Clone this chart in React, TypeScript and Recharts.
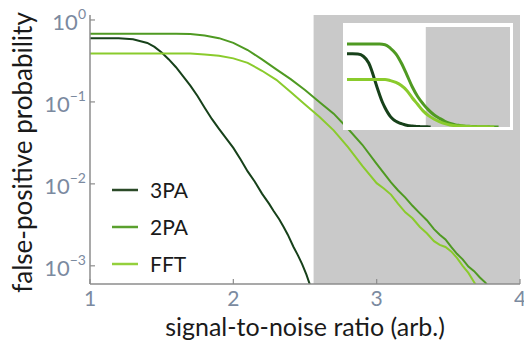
import React from "react";
import { LineChart, Line, XAxis, YAxis, ReferenceArea, Legend, Label } from "recharts";

const FONT = 'Lato, "Open Sans", sans-serif';
const FRAME = "#8c8c8c";
const TICK_TEXT = "#7b8aa0";
const SHADE = "#c9c9c9";

// x: signal-to-noise ratio, p: false-positive probability
const snr3PA = [1.0, 1.1, 1.2, 1.3, 1.4, 1.45, 1.5, 1.55, 1.6, 1.65, 1.7, 1.75, 1.8, 1.85, 1.9, 1.95, 2.0, 2.05, 2.1, 2.15, 2.2, 2.25, 2.28, 2.32, 2.35, 2.38, 2.42, 2.45, 2.48, 2.51, 2.54];
const fp3PA = [0.6, 0.6, 0.598, 0.58, 0.525, 0.47, 0.4, 0.33, 0.265, 0.205, 0.158, 0.118, 0.085, 0.062, 0.047, 0.036, 0.0275, 0.02, 0.0142, 0.0106, 0.0076, 0.0057, 0.0047, 0.0037, 0.003, 0.0024, 0.0017, 0.00135, 0.00105, 0.00078, 0.00055];

const snr2PA = [1.0, 1.6, 1.7, 1.8, 1.9, 2.0, 2.1, 2.2, 2.3, 2.4, 2.5, 2.6, 2.7, 2.8, 2.9, 3.0, 3.05, 3.1, 3.15, 3.2, 3.25, 3.3, 3.35, 3.4, 3.44, 3.48, 3.52, 3.56, 3.6, 3.64, 3.68, 3.72, 3.76, 3.79];
const fp2PA = [0.68, 0.68, 0.675, 0.645, 0.6, 0.525, 0.43, 0.33, 0.25, 0.19, 0.14, 0.1, 0.072, 0.047, 0.03, 0.0175, 0.0135, 0.0104, 0.0083, 0.0068, 0.0054, 0.0044, 0.0036, 0.0028, 0.0024, 0.0021, 0.0017, 0.0014, 0.0012, 0.00098, 0.00086, 0.00072, 0.00062, 0.00052];

const snrFFT = [1.0, 1.7, 1.8, 1.9, 2.0, 2.1, 2.2, 2.3, 2.4, 2.5, 2.6, 2.7, 2.8, 2.9, 3.0, 3.05, 3.1, 3.15, 3.2, 3.25, 3.3, 3.35, 3.4, 3.44, 3.48, 3.52, 3.56, 3.6, 3.64, 3.68, 3.71];
const fpFFT = [0.39, 0.39, 0.38, 0.365, 0.34, 0.3, 0.24, 0.186, 0.132, 0.093, 0.066, 0.045, 0.028, 0.0166, 0.0102, 0.0088, 0.0074, 0.0057, 0.0045, 0.0038, 0.003, 0.0025, 0.002, 0.0018, 0.0017, 0.0015, 0.00125, 0.001, 0.00082, 0.00063, 0.00052];

const xTicks = [1, 2, 3, 4];
const yTicks = [1, 0.1, 0.01, 0.001];
const yExponents = ["0", "\u22121", "\u22122", "\u22123"];
const insetXTicks = [2, 3];
const insetYTicks = [0.2, 0.4, 0.6];

const shadeStart = 2.56;
const insetShadeStart = 2.45;

const toPoints = (xs: number[], ys: number[]) => xs.map((x, i) => ({ snr: x, p: ys[i] }));

const series = [
  { name: "3PA", data: toPoints(snr3PA, fp3PA), color: "#17411a", legend: "#2b4a28" },
  { name: "2PA", data: toPoints(snr2PA, fp2PA), color: "#4f9a22", legend: "#5aa02e" },
  { name: "FFT", data: toPoints(snrFFT, fpFFT), color: "#8acb2c", legend: "#94d03c" },
];

const BottomTick = ({ x, y, payload }: any) => (
  <g>
    <line x1={x} y1={y} x2={x} y2={y - 5} stroke={FRAME} strokeWidth={1.2} />
    <text x={x} y={y + 22} textAnchor="middle" fontSize={21} fontFamily={FONT} fill={TICK_TEXT}>
      {payload.value}
    </text>
  </g>
);

const TopTick = ({ x, y }: any) => <line x1={x} y1={y} x2={x} y2={y + 5} stroke={FRAME} strokeWidth={1.2} />;
const RightTick = ({ x, y }: any) => <line x1={x} y1={y} x2={x - 5} y2={y} stroke={FRAME} strokeWidth={1.2} />;

const LeftTick = ({ x, y, payload }: any) => {
  const exp = yExponents[yTicks.indexOf(payload.value)];
  return (
    <g>
      <line x1={x} y1={y} x2={x + 5} y2={y} stroke={FRAME} strokeWidth={1.2} />
      <text x={x - 4} y={y + 10} textAnchor="end" fontFamily={FONT} fill={TICK_TEXT}>
        <tspan fontSize={22}>10</tspan>
        <tspan fontSize={14} dy={-11}>{exp}</tspan>
      </text>
    </g>
  );
};

const YLabel = ({ viewBox }: any) => {
  const cx = 22;
  const cy = viewBox.y + viewBox.height / 2 + 3;
  return (
    <text x={cx} y={cy} transform={`rotate(-90 ${cx} ${cy})`} textAnchor="middle" dominantBaseline="central" fontSize={26} fontFamily={FONT} fill="#1a1a1a">
      false-positive probability
    </text>
  );
};

const LegendBox = () => (
  <div style={{ fontFamily: FONT }}>
    {series.map((s) => (
      <div key={s.name} style={{ display: "flex", alignItems: "center", height: 37 }}>
        <svg width={26} height={4}>
          <line x1={0} y1={2} x2={26} y2={2} stroke={s.legend} strokeWidth={2.5} />
        </svg>
        <span style={{ marginLeft: 12, fontSize: 21, color: "#1a1a1a" }}>{s.name}</span>
      </div>
    ))}
  </div>
);

const InsetTickX = ({ x, y, top }: any) => (
  <line x1={x} y1={y} x2={x} y2={top ? y + 4 : y - 4} stroke="#a0a0a0" strokeWidth={1} />
);
const InsetTickY = ({ x, y, right }: any) => (
  <line x1={x} y1={y} x2={right ? x - 4 : x + 4} y2={y} stroke="#a0a0a0" strokeWidth={1} />
);

function Inset() {
  const axisLine = { stroke: "#a0a0a0", strokeWidth: 1 };
  return (
    <div style={{ position: "absolute", left: 343, top: 23, width: 170, height: 107, background: "#fff" }}>
      <LineChart width={170} height={107} margin={{ top: 4, right: 3, bottom: 3, left: 4 }}>
        <XAxis xAxisId="b" type="number" dataKey="snr" domain={[1, 4]} ticks={insetXTicks} height={0} tickSize={0} tickMargin={0} tickLine={false} tick={(p: any) => <InsetTickX {...p} />} axisLine={axisLine} allowDataOverflow />
        <XAxis xAxisId="t" orientation="top" type="number" domain={[1, 4]} ticks={insetXTicks} height={0} tickSize={0} tickMargin={0} tickLine={false} tick={(p: any) => <InsetTickX {...p} top />} axisLine={axisLine} allowDataOverflow />
        <YAxis yAxisId="l" type="number" dataKey="p" domain={[0, 0.82]} ticks={insetYTicks} width={0} tickSize={0} tickMargin={0} tickLine={false} tick={(p: any) => <InsetTickY {...p} />} axisLine={axisLine} allowDataOverflow />
        <YAxis yAxisId="r" orientation="right" type="number" domain={[0, 0.82]} ticks={insetYTicks} width={0} tickSize={0} tickMargin={0} tickLine={false} tick={(p: any) => <InsetTickY {...p} right />} axisLine={axisLine} allowDataOverflow />
        <ReferenceArea xAxisId="b" yAxisId="l" x1={insetShadeStart} x2={4} y1={0} y2={0.82} fill={SHADE} fillOpacity={1} stroke="none" />
        {series.map((s) => (
          <Line key={s.name} xAxisId="b" yAxisId="l" data={s.data} dataKey="p" stroke={s.color} strokeWidth={3} dot={false} type="monotone" isAnimationActive={false} />
        ))}
      </LineChart>
    </div>
  );
}

export default function App() {
  const axisLine = { stroke: FRAME, strokeWidth: 1.5 };
  return (
    <div style={{ position: "absolute", left: 0, top: 0, width: 524, height: 341, background: "#fff", fontFamily: FONT }}>
      <LineChart width={524} height={341} margin={{ top: 15, right: 4, bottom: 0, left: 0 }}>
        <XAxis xAxisId="b" type="number" dataKey="snr" domain={[1, 4]} ticks={xTicks} height={57} tickSize={0} tickMargin={0} tickLine={false} tick={(p: any) => <BottomTick {...p} />} axisLine={axisLine} allowDataOverflow>
          <Label value="signal-to-noise ratio (arb.)" position="insideBottom" offset={5} fontSize={25} fontFamily={FONT} fill="#1a1a1a" />
        </XAxis>
        <XAxis xAxisId="t" orientation="top" type="number" domain={[1, 4]} ticks={xTicks} height={0} tickSize={0} tickMargin={0} tickLine={false} tick={(p: any) => <TopTick {...p} />} axisLine={axisLine} allowDataOverflow />
        <YAxis yAxisId="l" type="number" dataKey="p" scale="log" domain={[0.0006, 1.15]} ticks={yTicks} width={90} tickSize={0} tickMargin={0} tickLine={false} tick={(p: any) => <LeftTick {...p} />} axisLine={axisLine} allowDataOverflow>
          <Label content={(p: any) => <YLabel {...p} />} />
        </YAxis>
        <YAxis yAxisId="r" orientation="right" type="number" scale="log" domain={[0.0006, 1.15]} ticks={yTicks} width={0} tickSize={0} tickMargin={0} tickLine={false} tick={(p: any) => <RightTick {...p} />} axisLine={axisLine} allowDataOverflow />
        <ReferenceArea xAxisId="b" yAxisId="l" x1={shadeStart} x2={4} y1={0.0006} y2={1.15} fill={SHADE} fillOpacity={1} stroke="none" />
        {series.map((s) => (
          <Line key={s.name} xAxisId="b" yAxisId="l" data={s.data} dataKey="p" name={s.name} stroke={s.color} strokeWidth={2} dot={false} type="linear" isAnimationActive={false} />
        ))}
        <Legend layout="vertical" align="center" verticalAlign="middle" content={() => <LegendBox />} wrapperStyle={{ left: 112, top: 171, width: "auto" }} />
      </LineChart>
      <Inset />
    </div>
  );
}
